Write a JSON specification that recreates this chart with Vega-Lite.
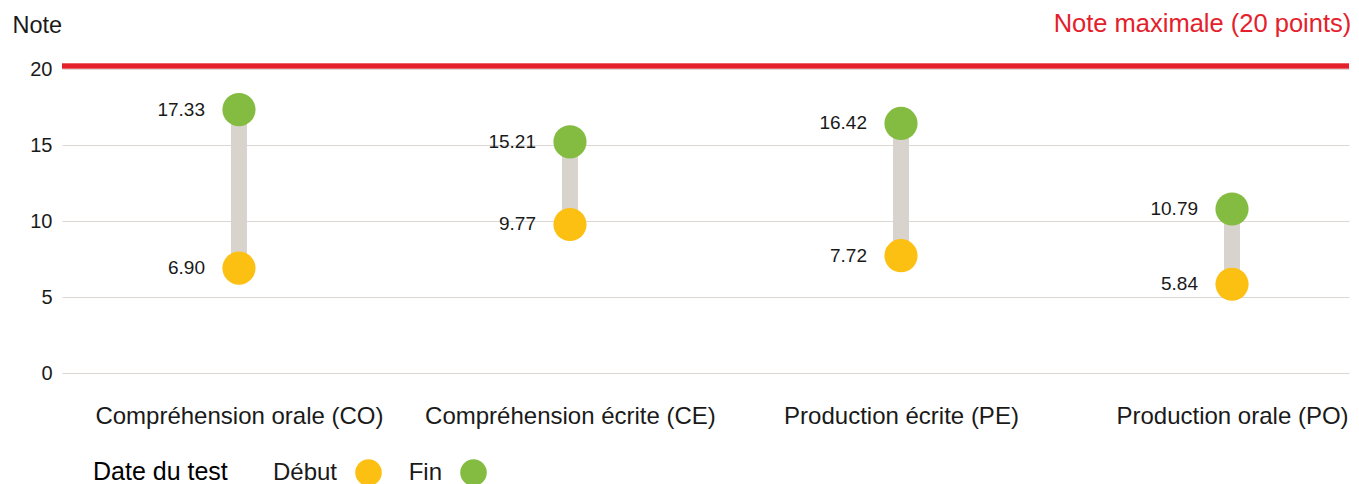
{
  "$schema": "https://vega.github.io/schema/vega-lite/v6.json",
  "width": 1287,
  "height": 304,
  "autosize": {"type": "none"},
  "padding": {"left": 62, "top": 69, "right": 10, "bottom": 111},
  "background": "white",
  "config": {
    "font": "Liberation Sans",
    "view": {"stroke": null},
    "axis": {"labelFont": "Liberation Sans", "titleFont": "Liberation Sans", "labelColor": "#1a1a1a", "titleColor": "#1a1a1a"}
  },
  "title": {
    "text": "Note maximale (20 points)",
    "anchor": "end",
    "color": "#e4212b",
    "fontSize": 25.5,
    "fontWeight": "normal",
    "font": "Liberation Sans",
    "offset": -24
  },
  "data": {
    "values": [
      {"categorie": "Compréhension orale (CO)", "Début": 6.90, "Fin": 17.33},
      {"categorie": "Compréhension écrite (CE)", "Début": 9.77, "Fin": 15.21},
      {"categorie": "Production écrite (PE)", "Début": 7.72, "Fin": 16.42},
      {"categorie": "Production orale (PO)", "Début": 5.84, "Fin": 10.79}
    ]
  },
  "encoding": {
    "x": {
      "field": "categorie",
      "type": "nominal",
      "sort": null,
      "scale": {"type": "point", "padding": 0.444, "align": 0.602},
      "axis": {"title": null, "labelAngle": 0, "labelFontSize": 24, "labelLimit": 500, "labelPadding": 31, "domain": false, "ticks": false, "grid": false}
    }
  },
  "layer": [
    {
      "mark": {"type": "rule", "color": "#e4212b", "strokeWidth": 4.5, "yOffset": -3},
      "encoding": {
        "x": null,
        "y": {
          "datum": 20,
          "type": "quantitative",
          "scale": {"domain": [0, 20], "nice": false},
          "axis": {
            "values": [0, 5, 10, 15, 20],
            "grid": true,
            "title": "Note",
            "titleAngle": 0,
            "titleAlign": "left",
            "titleBaseline": "middle",
            "titleX": -50,
            "titleY": -44,
            "titleFontSize": 23.5,
            "titleFontWeight": "normal",
            "labelFontSize": 20,
            "labelPadding": 10,
            "domain": false,
            "ticks": false,
            "gridColor": "#dcd7d3",
            "gridWidth": 1
          }
        }
      }
    },
    {
      "mark": {"type": "rule", "color": "#d9d3ce", "strokeWidth": 16},
      "encoding": {
        "y": {"field": "Début", "type": "quantitative"},
        "y2": {"field": "Fin"}
      }
    },
    {
      "transform": [{"fold": ["Début", "Fin"], "as": ["date", "note"]}],
      "mark": {"type": "circle", "size": 1100, "opacity": 1},
      "encoding": {
        "y": {"field": "note", "type": "quantitative"},
        "color": {
          "field": "date",
          "type": "nominal",
          "scale": {"domain": ["Début", "Fin"], "range": ["#fcc012", "#84bc41"]},
          "legend": {
            "orient": "none",
            "legendX": 31,
            "legendY": 390,
            "direction": "horizontal",
            "title": "Date du test",
            "titleOrient": "left",
            "titleFontSize": 25,
            "titleFontWeight": "normal",
            "titleColor": "#000000",
            "titlePadding": 127,
            "labelFontSize": 24,
            "labelColor": "#1a1a1a",
            "symbolSize": 707,
            "symbolType": "circle",
            "symbolStrokeWidth": 0,
            "symbolOpacity": 1,
            "labelAlign": "right",
            "labelOffset": -45,
            "columnPadding": 26
          }
        }
      }
    },
    {
      "transform": [{"fold": ["Début", "Fin"], "as": ["date", "note"]}],
      "mark": {"type": "text", "align": "right", "baseline": "middle", "dx": -34, "fontSize": 19, "color": "#1a1a1a"},
      "encoding": {
        "y": {"field": "note", "type": "quantitative"},
        "text": {"field": "note", "type": "quantitative", "format": ".2f"}
      }
    }
  ]
}
